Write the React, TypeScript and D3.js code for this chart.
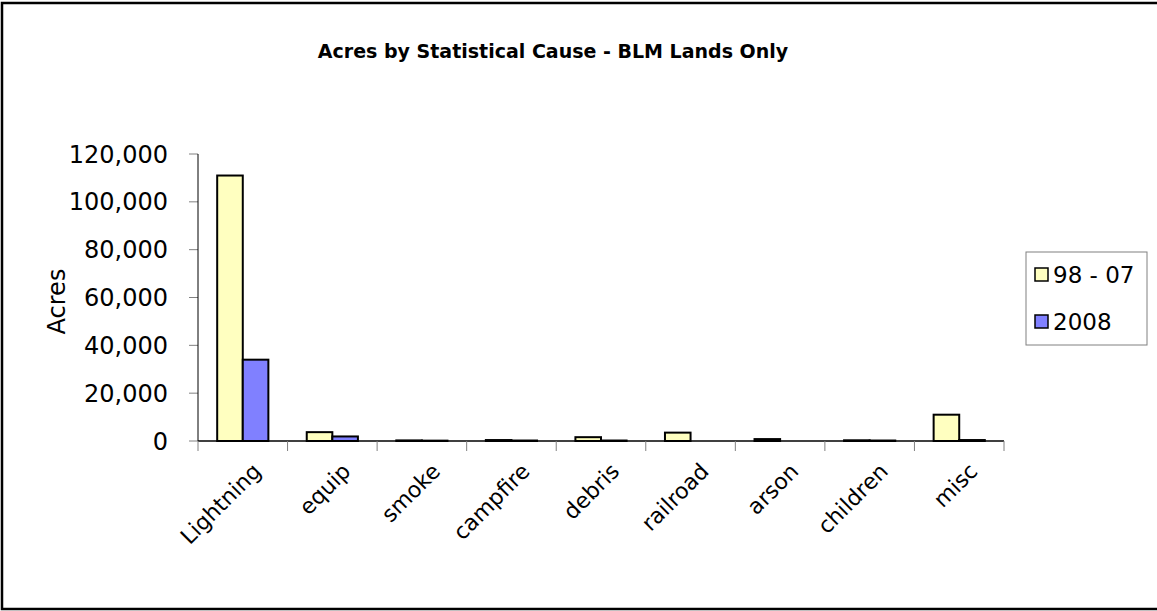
import React from "react";
import * as d3 from "d3";

const categories = ["Lightning", "equip", "smoke", "campfire", "debris", "railroad", "arson", "children", "misc"];
const series9807 = [111000, 3700, 250, 400, 1600, 3500, 800, 300, 11000];
const series2008 = [34000, 1900, 150, 200, 200, 0, 0, 200, 400];
const seriesNames = ["98 - 07", "2008"];
const seriesColors = ["#FFFFC0", "#8080FF"];
const yTicks = [0, 20000, 40000, 60000, 80000, 100000, 120000];
const titleText = "Acres by Statistical Cause - BLM Lands Only";
const yTitle = "Acres";

const W = 1157;
const H = 611;
const FONT = "'Comic Sans MS', 'DejaVu Sans', sans-serif";

export default function App() {
  const plot = { left: 198, right: 1004, top: 154, bottom: 441 };
  const x = d3.scaleBand<string>().domain(categories).range([plot.left, plot.right]).paddingInner(0).paddingOuter(0);
  const y = d3.scaleLinear().domain([0, 120000]).range([plot.bottom, plot.top]);
  const bw = x.bandwidth();
  const barW = bw / 3.5;
  const sub = d3.scaleBand<number>().domain([0, 1]).range([0, barW * 2]);
  const fmt = d3.format(",");
  const allSeries = [series9807, series2008];

  return (
    <svg width={W} height={H} style={{ position: "absolute", left: 0, top: 0, background: "#fff" }} fontFamily={FONT}>
      <rect x={2} y={3} width={1160} height={606} fill="#fff" stroke="#000" strokeWidth={2.5} />
      <text x={553} y={58} textAnchor="middle" fontSize={19} fontWeight="bold">{titleText}</text>

      {/* y ticks */}
      {yTicks.map((t) => (
        <g key={t}>
          <line x1={plot.left - 9} x2={plot.left} y1={y(t)} y2={y(t)} stroke="#808080" strokeWidth={1} />
          <text x={168} y={y(t)} dy="0.36em" textAnchor="end" fontSize={24}>{fmt(t)}</text>
        </g>
      ))}
      <text transform={`translate(56, ${(plot.top + plot.bottom) / 2 + 4}) rotate(-90)`} dy="0.36em" textAnchor="middle" fontSize={24}>{yTitle}</text>

      {/* bars */}
      {categories.map((c, i) => (
        <g key={c}>
          {allSeries.map((s, k) => {
            const v = s[i];
            if (v <= 0) return null;
            const x0 = (x(c) as number) + barW * 0.75 + (sub(k) as number);
            return (
              <rect key={k} x={x0} y={y(v)} width={barW} height={plot.bottom - y(v)} fill={seriesColors[k]} stroke="#000" strokeWidth={2} />
            );
          })}
        </g>
      ))}

      {/* axes */}
      <line x1={plot.left} x2={plot.left} y1={plot.top} y2={plot.bottom} stroke="#000" strokeWidth={1} />
      <line x1={plot.left} x2={plot.right} y1={plot.bottom} y2={plot.bottom} stroke="#000" strokeWidth={1.5} />
      {d3.range(categories.length + 1).map((i) => {
        const xx = plot.left + i * bw;
        return <line key={i} x1={xx} x2={xx} y1={plot.bottom} y2={plot.bottom + 10} stroke="#808080" strokeWidth={1} />;
      })}
      {categories.map((c) => {
        const cx = (x(c) as number) + bw / 2 + 8;
        return (
          <text key={c} transform={`translate(${cx}, ${plot.bottom + 20}) rotate(-45)`} textAnchor="end" dy="0.75em" fontSize={22}>{c}</text>
        );
      })}

      {/* legend */}
      <rect x={1026} y={252} width={121} height={93} fill="#fff" stroke="#808080" strokeWidth={1} />
      {seriesNames.map((n, k) => (
        <g key={n}>
          <rect x={1035} y={268 + k * 47} width={13} height={13} fill={seriesColors[k]} stroke="#000" strokeWidth={1.5} />
          <text x={1053} y={275 + k * 47} dy="0.36em" fontSize={23}>{n}</text>
        </g>
      ))}
    </svg>
  );
}
